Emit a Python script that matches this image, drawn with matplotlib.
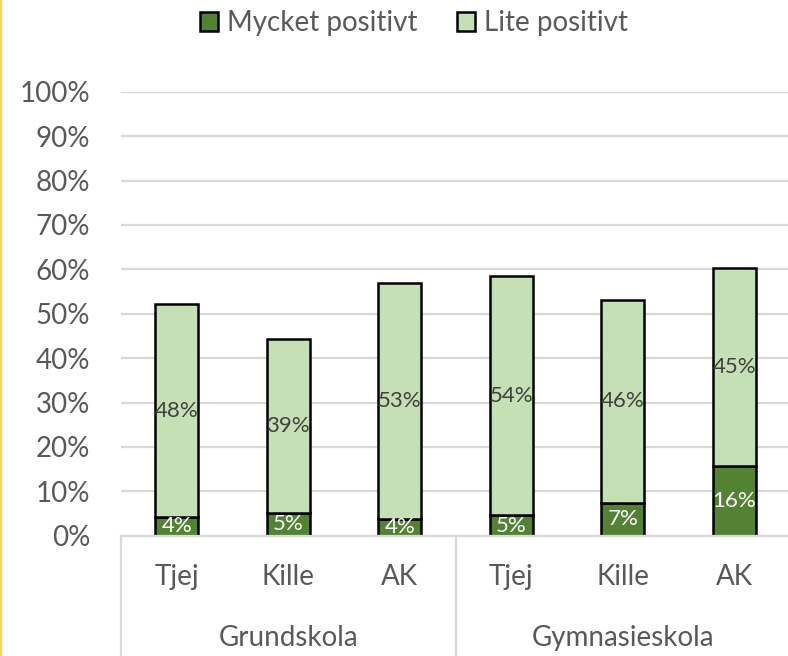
import numpy as np
import matplotlib
matplotlib.use("Agg")
import matplotlib.pyplot as plt
from matplotlib.patches import Rectangle
from matplotlib.lines import Line2D
import matplotlib.transforms as mtransforms

plt.rcParams['font.family'] = ['Lato', 'DejaVu Sans']

categories = ["Tjej", "Kille", "AK", "Tjej", "Kille", "AK"]
groups = ["Grundskola", "Gymnasieskola"]
series_names = ["Mycket positivt", "Lite positivt"]
mycket = [4.2, 5.2, 3.8, 4.6, 7.4, 15.8]
lite = [47.9, 39.2, 53.1, 53.8, 45.8, 44.6]
ytick_vals = [0, 10, 20, 30, 40, 50, 60, 70, 80, 90, 100]

dark = '#548235'
light = '#C5E0B4'
txt = '#595959'
grid = '#D9D9D9'

W, H = 788, 656
fig = plt.figure(figsize=(W / 100, H / 100), dpi=100)
ax_l, ax_b, ax_w, ax_h = 121, 120.2, 669, 444.1
ax = fig.add_axes([ax_l / W, ax_b / H, ax_w / W, ax_h / H])

x = np.arange(len(categories))
m = np.array(mycket)
li = np.array(lite)
bw = 0.39
ax.bar(x, m, width=bw, color=dark, edgecolor='black', linewidth=1.8, zorder=3)
ax.bar(x, li, width=bw, bottom=m, color=light, edgecolor='black', linewidth=1.8, zorder=3)

ax.set_xlim(-0.5, len(categories) - 0.5)
ax.set_ylim(0, 100)
ax.set_yticks(ytick_vals)
ax.set_yticklabels([f"{v}%" for v in ytick_vals])
ax.tick_params(axis='y', length=0, pad=22, labelsize=20, labelcolor=txt)
ax.set_xticks([])
for s in ax.spines.values():
    s.set_visible(False)
ax.yaxis.grid(True, color=grid, linewidth=1.6)
ax.set_axisbelow(True)
ax.axhline(0, color=grid, linewidth=1.6, zorder=5, clip_on=False)

# data labels
for xi, a, b in zip(x, m, li):
    ax.text(xi, a / 2, f"{a:.0f}%", ha='center', va='center', color='white',
            fontsize=16, zorder=6, clip_on=True)
    ax.text(xi, a + b / 2, f"{b:.0f}%", ha='center', va='center', color='#404040',
            fontsize=16, zorder=6, clip_on=True)

# category axis
trans = mtransforms.blended_transform_factory(ax.transData, ax.transAxes)
ybot = -ax_b / ax_h
for xv in [-0.5, 2.5, 5.5]:
    ax.add_line(Line2D([xv, xv], [0, ybot], transform=trans, color=grid,
                       linewidth=1.6, clip_on=False))
for xi, c in zip(x, categories):
    ax.text(xi, -(577 - 535.8) / ax_h, c, transform=trans, ha='center', va='center',
            fontsize=20, color=txt, clip_on=False)
for gi, g in enumerate(groups):
    ax.text(gi * 3 + 1, -(638 - 535.8) / ax_h, g, transform=trans, ha='center', va='center',
            fontsize=20, color=txt, clip_on=False)

# legend
handles = [Rectangle((0, 0), 1, 1, facecolor=dark, edgecolor='black', linewidth=1.8),
           Rectangle((0, 0), 1, 1, facecolor=light, edgecolor='black', linewidth=1.8)]
fig.legend(handles, series_names, loc='center', bbox_to_anchor=(414 / W, 1 - 23 / H),
           ncol=2, frameon=False, fontsize=20, labelcolor=txt,
           handlelength=0.65, handleheight=0.68, handletextpad=0.35, columnspacing=1.4)

# chart border (left edge visible)
fig.add_artist(Line2D([1.2 / W, 1.2 / W], [0, 1], transform=fig.transFigure,
                      color='#FFD34D', linewidth=1.6))

fig.savefig("out.png", dpi=100)
